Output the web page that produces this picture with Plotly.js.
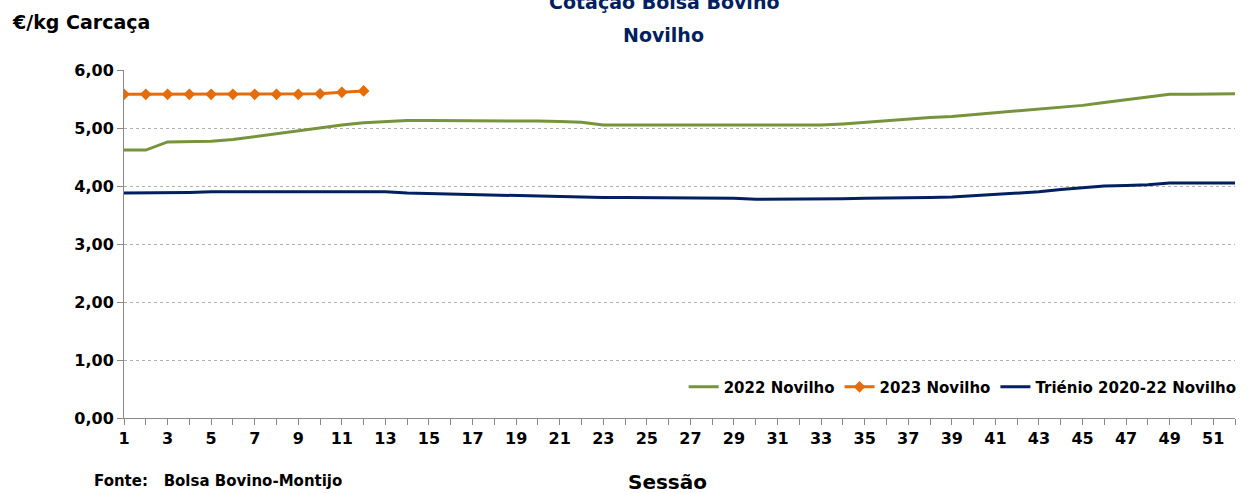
<!DOCTYPE html>
<html>
<head>
<meta charset="utf-8">
<script src="https://cdn.plot.ly/plotly-3.0.1.min.js"></script>
<style>html,body{margin:0;padding:0;background:#fff;}#chart{width:1254px;height:493px;}</style>
</head>
<body>
<div id="chart"></div>
<script>
const sessions = Array.from({length: 52}, (_, i) => i + 1);
const tickLabels = sessions.map(s => (s % 2 === 1 ? String(s) : ''));
const seriesNames = ['2022 Novilho', '2023 Novilho', 'Triénio 2020-22 Novilho'];
const titleLines = ['Cotação Bolsa Bovino', 'Novilho'];

const values2022 = [4.62,4.62,4.76,4.76,4.77,4.80,4.85,4.90,4.95,5.01,5.05,5.09,5.11,5.13,5.13,5.13,5.13,5.13,5.12,5.12,
  5.11,5.10,5.05,5.05,5.05,5.05,5.05,5.05,5.05,5.05,5.05,5.05,5.05,5.07,5.10,5.13,5.15,5.18,5.20,5.23,
  5.26,5.29,5.32,5.36,5.39,5.44,5.49,5.53,5.58,5.58,5.59,5.59];
const values2023 = [5.58,5.58,5.58,5.58,5.58,5.58,5.58,5.58,5.58,5.59,5.615,5.64];
const valuesTrienio = [3.88,3.88,3.89,3.89,3.90,3.90,3.90,3.91,3.91,3.91,3.90,3.91,3.90,3.88,3.87,3.87,3.86,3.85,3.84,3.83,
  3.81,3.81,3.80,3.80,3.80,3.79,3.79,3.79,3.79,3.77,3.77,3.77,3.78,3.78,3.79,3.79,3.80,3.80,3.81,3.83,
  3.85,3.87,3.90,3.94,3.97,4.00,4.01,4.02,4.05,4.05,4.05,4.05];
const yTickVals = [0,1,2,3,4,5,6];
const yTickText = ['0,00','1,00','2,00','3,00','4,00','5,00','6,00'];

const FONT = '"DejaVu Sans", sans-serif';

const traces = [
  {x: sessions.slice(0, values2022.length), y: values2022, name: seriesNames[0], mode: 'lines',
   line: {color: '#77933C', width: 3}},
  {x: sessions.slice(0, values2023.length), y: values2023, name: seriesNames[1], mode: 'lines+markers',
   line: {color: '#E46C0A', width: 3}, marker: {symbol: 'diamond', size: 9, color: '#E46C0A'}},
  {x: sessions.slice(0, valuesTrienio.length), y: valuesTrienio, name: seriesNames[2], mode: 'lines',
   line: {color: '#002060', width: 3}}
];

const layout = {
  width: 1254, height: 493,
  margin: {l: 124, r: 17, t: 70, b: 75},
  paper_bgcolor: '#fff', plot_bgcolor: '#fff',
  font: {family: FONT, color: '#000', size: 16, weight: 'bold'},
  showlegend: true,
  legend: {orientation: 'h', x: 1.006, xanchor: 'right', y: 0.089, yanchor: 'middle',
           font: {family: FONT, size: 15, color: '#000', weight: 'bold'}, bgcolor: 'rgba(0,0,0,0)',
           itemwidth: 30, tracegroupgap: 0},
  xaxis: {range: [1, 52], tickmode: 'array', tickvals: sessions, ticktext: tickLabels,
          ticks: 'outside', ticklen: 6, tickcolor: '#888', showline: true, linecolor: '#888', linewidth: 1,
          showgrid: false, zeroline: false, tickfont: {family: FONT, size: 16, color: '#000', weight: 'bold'}},
  yaxis: {range: [0, 6], tickmode: 'array', tickvals: yTickVals, ticktext: yTickText,
          ticks: 'outside', ticklen: 6, tickcolor: '#888', showline: true, linecolor: '#888', linewidth: 1,
          showgrid: true, gridcolor: '#b0b0b0', griddash: 'dot', gridwidth: 1, zeroline: false,
          tickfont: {family: FONT, size: 16, color: '#000', weight: 'bold'}},
  annotations: [
    {text: '<b>' + titleLines[0] + '</b>', xref: 'paper', yref: 'paper', x: 0.486, y: 1.195, xanchor: 'center', yanchor: 'middle',
     showarrow: false, font: {family: FONT, size: 19, color: '#002060'}},
    {text: '<b>' + titleLines[1] + '</b>', xref: 'paper', yref: 'paper', x: 0.486, y: 1.1, xanchor: 'center', yanchor: 'middle',
     showarrow: false, font: {family: FONT, size: 19, color: '#002060'}},
    {text: '<b>€/kg Carcaça</b>', xref: 'paper', yref: 'paper', x: -0.1024, y: 1.138, xanchor: 'left', yanchor: 'middle',
     showarrow: false, font: {family: FONT, size: 19, color: '#000'}},
    {text: '<b>Sessão</b>', xref: 'paper', yref: 'paper', x: 0.489, y: -0.183, xanchor: 'center', yanchor: 'middle',
     showarrow: false, font: {family: FONT, size: 20, color: '#000'}},
    {text: '<b>Fonte:   Bolsa Bovino-Montijo</b>', xref: 'paper', yref: 'paper', x: -0.0288, y: -0.181, xanchor: 'left', yanchor: 'middle',
     showarrow: false, font: {family: FONT, size: 15, color: '#000'}}
  ]
};

Plotly.newPlot('chart', traces, layout, {displayModeBar: false, staticPlot: true});
</script>
</body>
</html>
